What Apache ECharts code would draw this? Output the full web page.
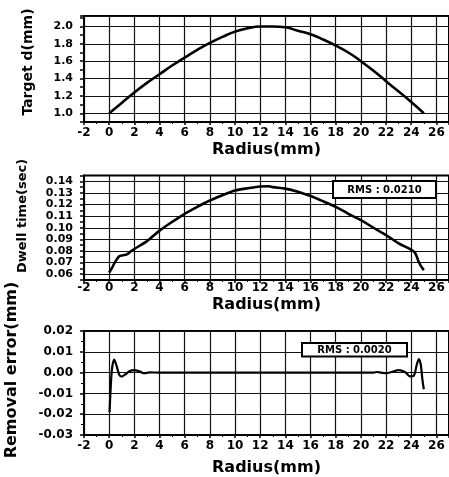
<!DOCTYPE html>
<html>
<head>
<meta charset="utf-8">
<script src="https://cdn.jsdelivr.net/npm/echarts@6/dist/echarts.min.js"></script>
<style>
  html, body { margin: 0; padding: 0; background: #fff; }
  #chart { width: 449px; height: 477px; }
</style>
</head>
<body>
<div id="chart"></div>
<script>
// target removal depth profile
const radiusTarget = [0, 1, 2, 3, 4, 5, 6, 7, 8, 9, 10, 11, 12, 13, 14, 15, 16, 17, 18, 19, 20, 21, 22, 23, 24, 25];
const targetDepth = [1.00, 1.12, 1.24, 1.35, 1.45, 1.55, 1.64, 1.73, 1.81, 1.88, 1.94, 1.98, 2.00, 2.00, 1.99, 1.95, 1.91, 1.85, 1.78, 1.70, 1.60, 1.49, 1.37, 1.25, 1.13, 1.00];

// dwell time
const radiusDwell = [0, 0.2, 0.5, 0.8, 1.1, 1.4, 1.7, 2, 3, 4, 5, 6, 7, 8, 9, 10, 11, 12, 12.7, 13, 14, 15, 16, 17, 18, 19, 20, 21, 22, 23, 24, 24.3, 24.6, 24.8, 25];
const dwellTime = [0.0615, 0.065, 0.071, 0.0755, 0.0763, 0.077, 0.0795, 0.0817, 0.0885, 0.0975, 0.105, 0.112, 0.118, 0.1235, 0.128, 0.132, 0.134, 0.1355, 0.1358, 0.135, 0.1337, 0.131, 0.1273, 0.1228, 0.118, 0.112, 0.1066, 0.100, 0.0937, 0.0866, 0.081, 0.0785, 0.0705, 0.0665, 0.0635];

// removal error
const radiusError = [0.03, 0.15, 0.25, 0.4, 0.6, 0.8, 1.0, 1.3, 1.6, 2.0, 2.4, 2.8, 3.2, 4, 6, 8, 10, 12, 14, 16, 18, 20, 21, 21.3, 21.6, 22, 22.5, 23, 23.5, 23.9, 24.2, 24.45, 24.6, 24.75, 24.9, 25];
const removalError = [-0.019, -0.004, 0.003, 0.0063, 0.003, -0.001, -0.0019, -0.0008, 0.0006, 0.0012, 0.0006, -0.0003, 0.0001, 0, 0, 0, 0, 0, 0, 0, 0, 0, 0, 0.0003, 0, -0.0003, 0.0004, 0.0012, 0.0003, -0.0018, -0.0015, 0.004, 0.0065, 0.004, -0.004, -0.008];

const rmsLabels = ["RMS : 0.0210", "RMS : 0.0020"];

const FONT = "DejaVu Sans";

function pairs(xs, ys) {
  return xs.map((x, i) => [x, ys[i]]);
}

function xAxisFor(gridIndex, labelMargin, nameGap) {
  return {
    type: "value",
    gridIndex,
    min: -2,
    max: 27,
    interval: 2,
    name: "Radius(mm)",
    nameLocation: "middle",
    nameGap,
    nameTextStyle: { fontFamily: FONT, fontWeight: "bold", fontSize: 16, color: "#000" },
    axisLine: { show: true, onZero: false, lineStyle: { color: "#000", width: 2 } },
    axisTick: { show: true, length: 3, lineStyle: { color: "#000", width: 1.5 } },
    minorTick: { show: true, splitNumber: 2, length: 2, lineStyle: { color: "#000" } },
    splitLine: { show: true, lineStyle: { color: "#111", width: 1.2 } },
    axisLabel: {
      showMaxLabel: false,
      margin: labelMargin,
      fontFamily: FONT,
      fontWeight: "bold",
      fontSize: 12,
      color: "#000",
    },
  };
}

function yBase(gridIndex, fontSize) {
  return {
    type: "value",
    gridIndex,
    axisLine: { show: true, onZero: false, lineStyle: { color: "#000", width: 2 } },
    axisTick: { show: true, length: 4, lineStyle: { color: "#000", width: 1.5 } },
    axisLabel: { margin: 11, fontFamily: FONT, fontWeight: "bold", fontSize, color: "#000" },
  };
}

const y1 = yBase(0, 11);
y1.min = 0.9;
y1.max = 2.12;
y1.interval = 0.1;
y1.axisLabel.formatter = (v) => (Math.round(v * 10) % 2 === 0 ? v.toFixed(1) : "");
y1.splitLine = { show: true, lineStyle: { color: ["transparent", "#111"], width: 1.2 } };

const y2 = yBase(1, 11);
y2.min = 0.055;
y2.max = 0.145;
y2.interval = 0.005;
y2.axisLabel.formatter = (v) => (Math.round(v * 1000) % 10 === 0 ? v.toFixed(2) : "");
y2.splitLine = { show: true, lineStyle: { color: ["transparent", "#111"], width: 1.2 } };

const y3 = yBase(2, 12);
y3.min = -0.03;
y3.max = 0.02;
y3.interval = 0.01;
y3.minorTick = { show: true, splitNumber: 2, length: 3, lineStyle: { color: "#000" } };
y3.axisLabel.formatter = (v) => (Math.abs(v) < 1e-9 ? 0 : v).toFixed(2);
y3.splitLine = { show: true, lineStyle: { color: "#111", width: 1.2 } };

function yName(text, x, y, size) {
  return {
    type: "text",
    x,
    y,
    rotation: Math.PI / 2,
    style: {
      text,
      fontFamily: FONT,
      fontWeight: "bold",
      fontSize: size,
      fill: "#000",
      align: "center",
      verticalAlign: "middle",
    },
  };
}

function rmsBox(text, x, y, w, h) {
  return {
    type: "group",
    children: [
      {
        type: "rect",
        shape: { x, y, width: w, height: h },
        style: { fill: "#fff", stroke: "#000", lineWidth: 2 },
        z: 10,
      },
      {
        type: "text",
        x: x + w / 2,
        y: y + h / 2 + 0.5,
        z: 11,
        style: {
          text,
          fontFamily: FONT,
          fontWeight: "bold",
          fontSize: 10,
          fill: "#000",
          align: "center",
          verticalAlign: "middle",
        },
      },
    ],
  };
}

const lineStyle = { color: "#000", width: 2.6 };

const option = {
  animation: false,
  backgroundColor: "#fff",
  grid: [
    { left: 84, right: 0, top: 16, height: 106, show: true, borderColor: "#000", borderWidth: 2 },
    { left: 84, right: 0, top: 175.5, height: 104.5, show: true, borderColor: "#000", borderWidth: 2 },
    { left: 84, right: 0, top: 331, height: 105.7, show: true, borderColor: "#000", borderWidth: 2 },
  ],
  xAxis: [xAxisFor(0, 5, 20), xAxisFor(1, 2, 17), xAxisFor(2, 5, 25)],
  yAxis: [y1, y2, y3],
  graphic: [
    yName("Target d(mm)", 28, 62, 14),
    yName("Dwell time(sec)", 23, 216, 13),
    yName("Removal error(mm)", 12, 370, 16),
    rmsBox(rmsLabels[0], 333, 181, 103, 17),
    rmsBox(rmsLabels[1], 302, 343, 105, 13.5),
  ],
  series: [
    {
      type: "line",
      xAxisIndex: 0,
      yAxisIndex: 0,
      data: pairs(radiusTarget, targetDepth),
      symbol: "none",
      smooth: true,
      lineStyle,
    },
    {
      type: "line",
      xAxisIndex: 1,
      yAxisIndex: 1,
      data: pairs(radiusDwell, dwellTime),
      symbol: "none",
      smooth: 0.3,
      lineStyle,
    },
    {
      type: "line",
      xAxisIndex: 2,
      yAxisIndex: 2,
      data: pairs(radiusError, removalError),
      symbol: "none",
      smooth: 0.3,
      lineStyle: { color: "#000", width: 2.2 },
    },
  ],
};

const chart = echarts.init(document.getElementById("chart"));
chart.setOption(option);
window.addEventListener("resize", () => chart.resize());
</script>
</body>
</html>
